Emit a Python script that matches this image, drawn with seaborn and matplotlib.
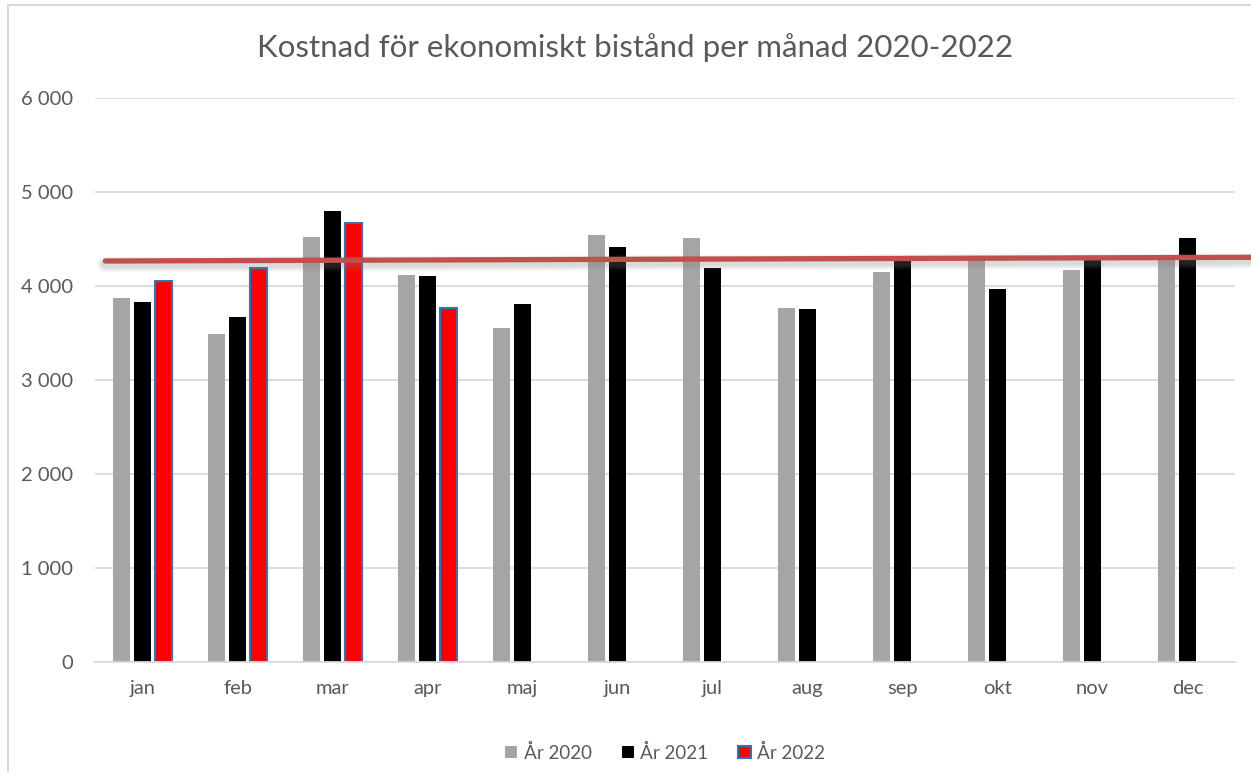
import numpy as np
import pandas as pd
import seaborn as sns
import matplotlib.pyplot as plt
import matplotlib.patheffects as pe
from matplotlib.patches import Rectangle
from matplotlib.ticker import FuncFormatter

# data
months = ['jan', 'feb', 'mar', 'apr', 'maj', 'jun', 'jul', 'aug', 'sep', 'okt', 'nov', 'dec']
years = ['År 2020', 'År 2021', 'År 2022']
y2020 = [3870, 3490, 4520, 4120, 3550, 4540, 4510, 3770, 4150, 4290, 4175, 4290]
y2021 = [3830, 3670, 4800, 4110, 3810, 4420, 4190, 3755, 4320, 3970, 4290, 4510]
y2022 = [4050, 4190, 4670, 3765]
# hand drawn red line (left end, right end)
ref_line = [4266, 4305]

colors = {'År 2020': '#A5A5A5', 'År 2021': '#000000', 'År 2022': '#FF0000'}
txt = '#595959'
grid = '#D9D9D9'

rows = []
for vals, yr in zip([y2020, y2021, y2022], years):
    for m, v in zip(months, vals):
        rows.append({'month': m, 'year': yr, 'cost': v})
df = pd.DataFrame(rows)

sns.set_style('white')
plt.rcParams['font.family'] = ['Lato', 'DejaVu Sans']

fig = plt.figure(figsize=(12.51, 7.72), dpi=100)
ax = fig.add_axes([95 / 1251, 1 - 662 / 772, 1140 / 1251, 564 / 772])

sns.barplot(data=df, x='month', y='cost', hue='year', order=months, hue_order=years,
            palette=colors, width=0.65, gap=0.17, linewidth=0, saturation=1,
            errorbar=None, legend=False, ax=ax)

# 2022 bars get a blue outline
for p in ax.containers[2]:
    p.set_edgecolor('#2E75B6')
    p.set_linewidth(1.5)

ax.set_ylim(0, 6000)
ax.set_xlim(-0.5, 11.5)
ax.set_yticks(np.arange(0, 6001, 1000))
ax.yaxis.set_major_formatter(FuncFormatter(lambda v, _: f'{int(v):,}'.replace(',', ' ')))
ax.yaxis.grid(True, color=grid, linewidth=1.3)
ax.set_axisbelow(True)
for s in ['left', 'right', 'top']:
    ax.spines[s].set_visible(False)
ax.spines['bottom'].set_color(grid)
ax.spines['bottom'].set_linewidth(1.3)
ax.tick_params(axis='both', length=0, labelsize=14.5, colors=txt)
ax.tick_params(axis='y', pad=16)
ax.tick_params(axis='x', pad=13)
ax.set_xlabel('')
ax.set_ylabel('')

# red line drawn across the chart, with a soft shadow
ln, = ax.plot([0.009, 1.014], ref_line, color='#C0504D', linewidth=3.8,
              transform=ax.get_yaxis_transform(), clip_on=False, zorder=5)
shadows = [pe.SimpleLineShadow(offset=(0, -2.5), shadow_color='#808080', alpha=0.08, linewidth=w)
           for w in (11, 9, 7, 5)]
ln.set_path_effects(shadows + [pe.Normal()])

fig.text(0.508, 1 - 48 / 772, 'Kostnad för ekonomiskt bistånd per månad 2020-2022',
         ha='center', va='center', fontsize=22.5, color=txt)

ax.legend(ax.containers, years, loc='upper center', bbox_to_anchor=(0.5, -0.115),
          ncol=3, frameon=False, fontsize=13.5, labelcolor=txt,
          handlelength=0.65, handleheight=0.65, handletextpad=0.35, columnspacing=1.6)

# outer chart frame
fig.patches.append(Rectangle((8 / 1251, -0.2), 1.5, 1.2 - 5 / 772, transform=fig.transFigure,
                             fill=False, edgecolor=grid, linewidth=1.5, clip_on=False))

fig.savefig('out.png', dpi=100)
